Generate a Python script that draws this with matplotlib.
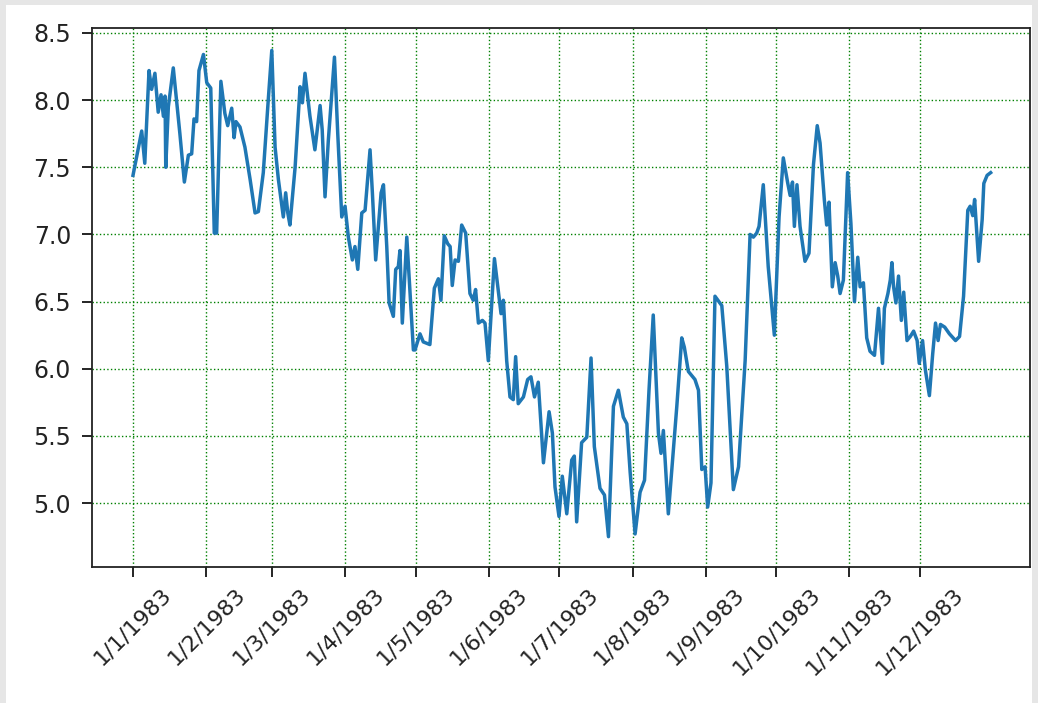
import matplotlib
matplotlib.use("Agg")
import matplotlib.pyplot as plt
from matplotlib.patches import Rectangle
import pandas as pd
import numpy as np

# Day-of-year offsets (0 = 1 Jan 1983) and values
days = [0, 3.7, 5, 6.8, 7.9, 9.3, 10.7, 11.9, 12.9, 13.6, 13.9, 15, 17.1, 19.9, 21.8,
        23.5, 24.9, 25.9, 27, 28, 29.9, 31.3, 33, 34.5, 35.5, 37.3, 39, 40.2, 41.9,
        42.9, 43.7, 45.4, 47.5, 49.7, 51.8, 53.2, 55.3, 57.4, 58.9, 60.3, 61.7, 63.8,
        64.8, 65.7, 66.6, 68.8, 70.9, 71.9, 73, 75.1, 77.2, 79.4, 80.3, 81.5, 82.9,
        85.5, 86.9, 88.6, 90, 91.4, 93.1, 94.2, 95.4, 97.1, 98.5, 100.6, 101.6, 103,
        105.3, 106.3, 107.7, 108.7, 110.5, 111.5, 112.6, 113.3, 114.3, 116.2, 119,
        119.7, 121.8, 123.2, 126, 127.9, 129.6, 130.7, 132.1, 133.6, 134.6, 135.5,
        136.7, 138.1, 139.5, 141.2, 143, 144.4, 145.4, 146.6, 148.3, 149.4, 150.8,
        153.4, 155.3, 156.2, 157.2, 158.6, 160, 161.4, 162.4, 163.5, 165.7, 167.5,
        168.9, 170.4, 172, 174.2, 176.6, 178, 179.1, 180.8, 182.2, 184.1, 186.2,
        187.3, 188.3, 190.4, 192.6, 194.4, 195.8, 198.2, 200.1, 201.8, 203.9, 206,
        208.1, 209.6, 211, 213.1, 215.2, 217.1, 219, 220.8, 223, 224.1, 225.1, 227.2,
        230.8, 232.9, 234, 235.7, 238.5, 240, 241.4, 242.8, 243.9, 245.3, 247, 249.9,
        252, 254.8, 257, 259.8, 261.9, 263.3, 264.7, 265.7, 267.5, 269.6, 272.2,
        274.2, 276, 277.9, 278.9, 279.9, 280.7, 281.8, 283.1, 285.2, 286.9, 288.8,
        290.4, 291.6, 293.4, 294.4, 295.4, 296.8, 298, 299.1, 300.1, 301.5, 303.3,
        304.7, 306.2, 307.6, 308.6, 310, 311.4, 312.8, 314.7, 316.4, 318.1, 318.9,
        320.4, 321.4, 322.1, 322.8, 323.8, 324.9, 326.1, 327.1, 328.5, 329.9, 331.3,
        332.8, 333.7, 335.1, 336.3, 338, 339.4, 340.6, 341.7, 342.7, 344.5, 346.5,
        349.1, 350.8, 352.5, 354.3, 355.3, 356.4, 357.2, 358.9, 360.4, 361.1, 362.5,
        364]
values = [7.44, 7.77, 7.53, 8.22, 8.08, 8.20, 7.91, 8.04, 7.88, 8.03, 7.50, 7.95, 8.24,
          7.75, 7.39, 7.59, 7.60, 7.86, 7.84, 8.22, 8.34, 8.13, 8.09, 7.01, 7.01, 8.14,
          7.90, 7.81, 7.94, 7.72, 7.84, 7.80, 7.65, 7.41, 7.16, 7.17, 7.46, 8.00, 8.37,
          7.65, 7.41, 7.13, 7.31, 7.16, 7.07, 7.50, 8.10, 7.98, 8.20, 7.88, 7.63, 7.96,
          7.78, 7.28, 7.70, 8.32, 7.75, 7.13, 7.21, 6.98, 6.81, 6.91, 6.74, 7.16, 7.18,
          7.63, 7.31, 6.81, 7.31, 7.37, 6.91, 6.49, 6.39, 6.74, 6.76, 6.88, 6.34, 6.98,
          6.14, 6.14, 6.26, 6.20, 6.18, 6.60, 6.67, 6.51, 6.99, 6.93, 6.91, 6.62, 6.81,
          6.80, 7.07, 7.01, 6.56, 6.51, 6.59, 6.34, 6.36, 6.34, 6.06, 6.82, 6.54, 6.41,
          6.51, 6.06, 5.79, 5.77, 6.09, 5.74, 5.79, 5.92, 5.94, 5.79, 5.90, 5.30, 5.68,
          5.52, 5.12, 4.90, 5.20, 4.92, 5.32, 5.35, 4.86, 5.45, 5.49, 6.08, 5.42, 5.11,
          5.06, 4.75, 5.72, 5.84, 5.64, 5.59, 5.23, 4.77, 5.08, 5.17, 5.84, 6.40, 5.52,
          5.37, 5.54, 4.92, 5.72, 6.23, 6.16, 5.98, 5.92, 5.84, 5.25, 5.27, 4.97, 5.15,
          6.54, 6.47, 6.02, 5.10, 5.27, 6.06, 7.00, 6.98, 7.01, 7.06, 7.37, 6.76, 6.25,
          7.13, 7.57, 7.38, 7.29, 7.39, 7.06, 7.37, 7.06, 6.80, 6.86, 7.52, 7.81, 7.68,
          7.26, 7.07, 7.24, 6.61, 6.79, 6.69, 6.56, 6.66, 7.46, 7.08, 6.50, 6.83, 6.61,
          6.64, 6.23, 6.13, 6.10, 6.45, 6.04, 6.45, 6.56, 6.66, 6.79, 6.61, 6.49, 6.69,
          6.36, 6.57, 6.21, 6.24, 6.28, 6.21, 6.04, 6.21, 5.99, 5.80, 6.11, 6.34, 6.21,
          6.33, 6.31, 6.26, 6.21, 6.24, 6.54, 7.18, 7.21, 7.14, 7.26, 6.80, 7.11, 7.38,
          7.44, 7.46]

tick_months = list(range(1, 13))
tick_labels = [f"1/{m}/1983" for m in tick_months]
ytick_values = [5.0, 5.5, 6.0, 6.5, 7.0, 7.5, 8.0, 8.5]

start = pd.Timestamp("1983-01-01")
dates = start + pd.to_timedelta(np.array(days), unit="D")
tick_dates = [pd.Timestamp(1983, m, 1) for m in tick_months]

plt.rcParams['font.family'] = ['DejaVu Sans']
fig = plt.figure(figsize=(10.38, 7.03), dpi=100)
fig.patch.set_facecolor('#e6e6e6')
fig.add_artist(Rectangle((6/1038, 0), (1032-6)/1038, (703-5)/703,
                         transform=fig.transFigure, facecolor='white',
                         edgecolor='none', zorder=-10))
ax = fig.add_axes([92/1038, 1-567/703, (1030-92)/1038, (567-28)/703])
ax.plot(dates, values, color='#1f77b4', linewidth=2.5)

ax.set_xticks(tick_dates)
ax.set_xticklabels(tick_labels, rotation=45, fontsize=16, color='#222222')
ax.set_yticks(ytick_values)
ax.set_yticklabels([f"{v:.1f}" for v in ytick_values], fontsize=17, color='#222222')
ax.set_xlim(start + pd.Timedelta(days=-17.4), start + pd.Timedelta(days=380.7))
ax.set_ylim(4.524, 8.537)
ax.grid(True, color='green', linestyle=':', linewidth=1.0)
ax.tick_params(axis='both', length=7, width=1.2)
ax.tick_params(axis='y', pad=8)
ax.tick_params(axis='x', pad=5)
for s in ax.spines.values():
    s.set_linewidth(1.3)
    s.set_color('#222222')

fig.savefig("out.png", dpi=100, facecolor=fig.get_facecolor())
